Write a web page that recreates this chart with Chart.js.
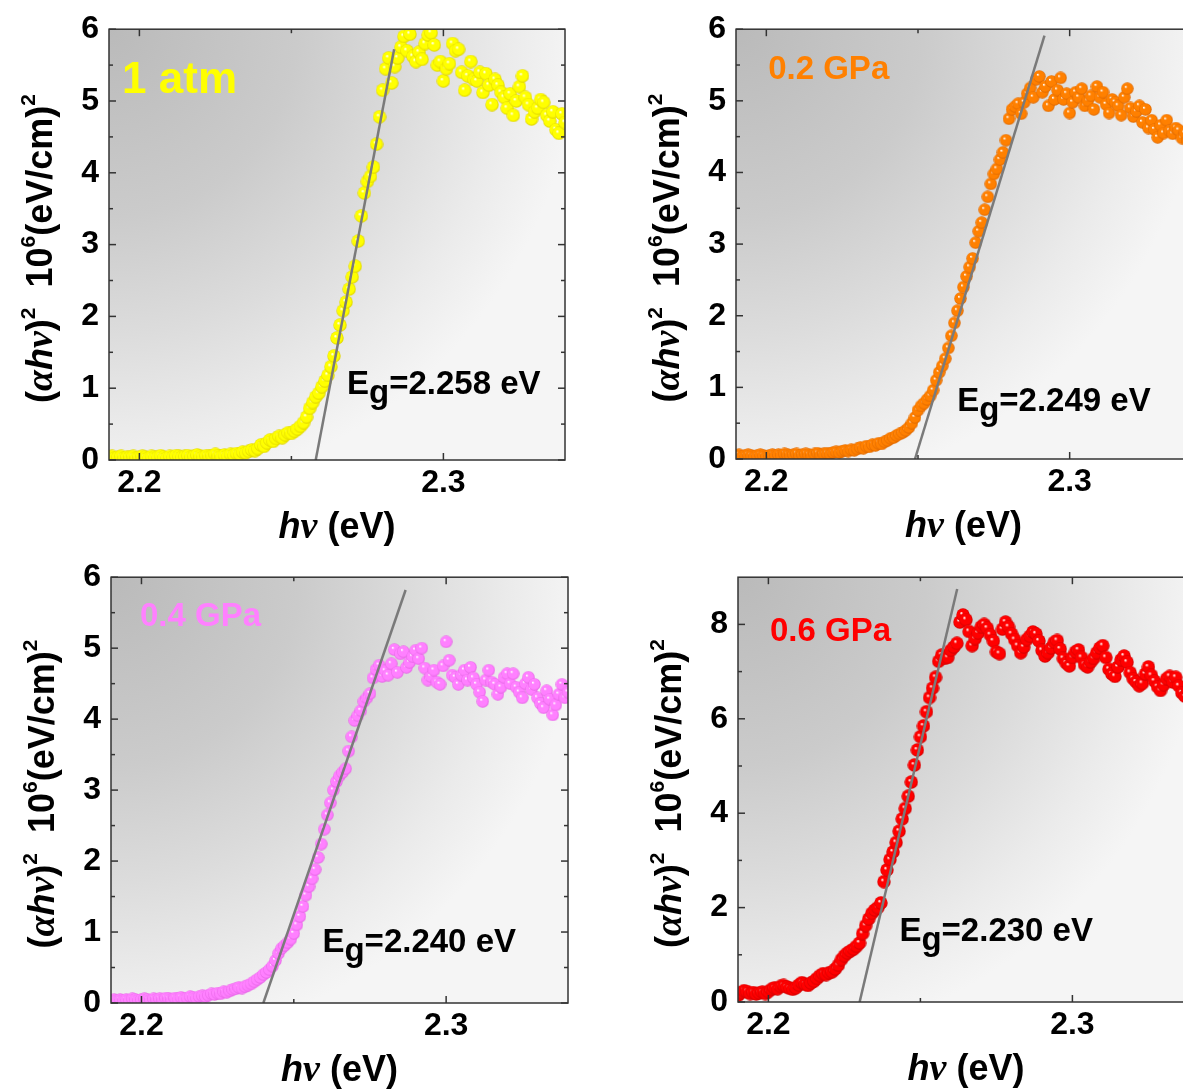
<!DOCTYPE html>
<html>
<head>
<meta charset="utf-8">
<script src="https://cdn.jsdelivr.net/npm/chart.js@4.4.1/dist/chart.umd.min.js"></script>
<style>
  html, body { margin: 0; padding: 0; background: #fff; overflow: hidden; }
  body { width: 1183px; height: 1090px; position: relative; }
  canvas { position: absolute; }
</style>
</head>
<body>
<canvas id="p1" width="590" height="548" style="left:0;top:0"></canvas>
<canvas id="p2" width="600" height="548" style="left:620px;top:0"></canvas>
<canvas id="p3" width="590" height="542" style="left:0;top:548px"></canvas>
<canvas id="p4" width="600" height="542" style="left:620px;top:548px"></canvas>
<script>
// ================== Data ==================
// photon energy grid (eV), shared by the four spectra
const energy = [
  2.190, 2.191, 2.192, 2.193, 2.194, 2.195, 2.196, 2.197, 2.198, 2.199,
  2.200, 2.201, 2.202, 2.203, 2.204, 2.205, 2.206, 2.207, 2.208, 2.209,
  2.210, 2.211, 2.212, 2.213, 2.214, 2.215, 2.216, 2.217, 2.218, 2.219,
  2.220, 2.221, 2.222, 2.223, 2.224, 2.225, 2.226, 2.227, 2.228, 2.229,
  2.230, 2.231, 2.232, 2.233, 2.234, 2.235, 2.236, 2.237, 2.238, 2.239,
  2.240, 2.241, 2.242, 2.243, 2.244, 2.245, 2.246, 2.247, 2.248, 2.249,
  2.250, 2.251, 2.252, 2.253, 2.254, 2.255, 2.256, 2.257, 2.258, 2.259,
  2.260, 2.261, 2.262, 2.263, 2.264, 2.265, 2.266, 2.267, 2.268, 2.269,
  2.270, 2.271, 2.272, 2.273, 2.274, 2.275, 2.276, 2.277, 2.278, 2.279,
  2.280, 2.281, 2.282, 2.283, 2.284, 2.285, 2.286, 2.287, 2.288, 2.289,
  2.290, 2.291, 2.292, 2.293, 2.294, 2.295, 2.296, 2.297, 2.298, 2.299,
  2.300, 2.301, 2.302, 2.303, 2.304, 2.305, 2.306, 2.307, 2.308, 2.309,
  2.310, 2.311, 2.312, 2.313, 2.314, 2.315, 2.316, 2.317, 2.318, 2.319,
  2.320, 2.321, 2.322, 2.323, 2.324, 2.325, 2.326, 2.327, 2.328, 2.329,
  2.330, 2.331, 2.332, 2.333, 2.334, 2.335, 2.336, 2.337, 2.338, 2.339,
  2.340
];

// (alpha h nu)^2 in 10^6 (eV/cm)^2
const absAtm = [
  0.04, 0.05, 0.03, 0.04, 0.05, 0.03, 0.04, 0.04, 0.05, 0.03,
  0.04, 0.05, 0.04, 0.03, 0.05, 0.04, 0.04, 0.06, 0.04, 0.03,
  0.05, 0.04, 0.06, 0.05, 0.04, 0.05, 0.06, 0.04, 0.05, 0.07,
  0.05, 0.04, 0.06, 0.05, 0.06, 0.08, 0.06, 0.05, 0.07, 0.06,
  0.08, 0.07, 0.09, 0.08, 0.11, 0.10, 0.12, 0.14, 0.13, 0.16,
  0.21, 0.19, 0.24, 0.28, 0.26, 0.30, 0.33, 0.31, 0.35, 0.38,
  0.37, 0.40, 0.43, 0.47, 0.52, 0.60, 0.72, 0.80, 0.88, 0.93,
  1.02, 1.10, 1.18, 1.30, 1.45, 1.70, 1.88, 2.08, 2.20, 2.38,
  2.55, 2.70, 3.05, 3.40, 3.72, 3.88, 3.95, 4.08, 4.40, 4.78,
  5.15, 5.45, 5.60, 5.25, 5.48, 5.60, 5.75, 5.90, 5.70, 5.93,
  5.62, 5.55, 5.68, 5.58, 5.80, 5.92, 5.95, 5.78, 5.50, 5.55,
  5.28, 5.45, 5.52, 5.80, 5.70, 5.72, 5.40, 5.15, 5.35, 5.55,
  5.30, 5.28, 5.40, 5.12, 5.38, 5.22, 4.95, 5.30, 5.22, 5.12,
  5.05, 4.90, 5.10, 4.80, 5.00, 5.20, 5.35, 5.05, 4.95, 4.75,
  4.85, 4.90, 5.02, 4.98, 4.80, 4.72, 4.85, 4.60, 4.55, 4.82,
  4.70
];
const abs02 = [
  0.05, 0.06, 0.04, 0.05, 0.06, 0.05, 0.04, 0.05, 0.06, 0.05,
  0.04, 0.05, 0.06, 0.05, 0.06, 0.05, 0.07, 0.06, 0.05, 0.06,
  0.07, 0.05, 0.06, 0.07, 0.06, 0.05, 0.07, 0.08, 0.06, 0.07,
  0.08, 0.07, 0.09, 0.10, 0.09, 0.11, 0.12, 0.11, 0.13, 0.12,
  0.14, 0.16, 0.15, 0.18, 0.17, 0.20, 0.19, 0.22, 0.21, 0.24,
  0.26, 0.29, 0.30, 0.33, 0.35, 0.37, 0.40, 0.44, 0.50, 0.58,
  0.68, 0.74, 0.78, 0.83, 0.88, 0.96, 1.10, 1.21, 1.30, 1.40,
  1.55, 1.72, 1.90, 2.07, 2.24, 2.40, 2.55, 2.68, 2.80, 3.02,
  3.18, 3.30, 3.48, 3.66, 3.84, 3.98, 4.05, 4.18, 4.28, 4.45,
  4.75, 4.88, 4.92, 4.96, 4.82, 4.98, 5.10, 5.18, 5.05, 5.30,
  5.34, 5.12, 5.20, 4.93, 5.27, 5.02, 5.15, 5.32, 5.02, 5.10,
  4.83, 4.98, 5.12, 5.05, 5.17, 4.93, 5.00, 5.07, 4.88, 5.20,
  5.05, 5.12, 4.95, 4.83, 5.02, 4.98, 4.93, 4.80, 5.05, 5.17,
  4.90, 4.78, 4.85, 4.93, 4.70, 4.88, 4.62, 4.73, 4.60, 4.49,
  4.66, 4.55, 4.73, 4.58, 4.54, 4.62, 4.59, 4.48, 4.55, 4.44,
  4.50
];
const abs04 = [
  0.04, 0.05, 0.04, 0.05, 0.04, 0.05, 0.04, 0.06, 0.05, 0.04,
  0.05, 0.06, 0.05, 0.04, 0.06, 0.05, 0.06, 0.05, 0.07, 0.06,
  0.05, 0.07, 0.06, 0.08, 0.06, 0.07, 0.09, 0.08, 0.07, 0.09,
  0.10, 0.09, 0.11, 0.13, 0.12, 0.14, 0.13, 0.16, 0.15, 0.17,
  0.19, 0.20, 0.22, 0.21, 0.23, 0.25, 0.27, 0.30, 0.33, 0.36,
  0.40, 0.43, 0.47, 0.52, 0.60, 0.70, 0.77, 0.81, 0.85, 0.90,
  0.98, 1.10, 1.22, 1.36, 1.52, 1.64, 1.75, 1.88, 2.05, 2.24,
  2.45, 2.65, 2.82, 3.00, 3.12, 3.20, 3.25, 3.30, 3.55, 3.75,
  3.98, 4.05, 4.12, 4.25, 4.30, 4.36, 4.58, 4.70, 4.76, 4.60,
  4.68, 4.62, 4.78, 4.98, 4.66, 4.92, 4.95, 4.73, 4.80, 4.88,
  4.97, 4.85, 5.00, 4.72, 4.55, 4.60, 4.69, 4.52, 4.49, 4.75,
  5.09, 4.83, 4.62, 4.59, 4.49, 4.62, 4.69, 4.55, 4.73, 4.58,
  4.49, 4.38, 4.25, 4.55, 4.69, 4.52, 4.49, 4.35, 4.45, 4.59,
  4.64, 4.50, 4.64, 4.45, 4.38, 4.30, 4.50, 4.59, 4.42, 4.49,
  4.30, 4.22, 4.16, 4.40, 4.28, 4.06, 4.20, 4.35, 4.49, 4.30,
  4.38
];
const abs06 = [
  0.14, 0.20, 0.24, 0.22, 0.18, 0.20, 0.17, 0.19, 0.21, 0.18,
  0.22, 0.27, 0.30, 0.28, 0.33, 0.35, 0.32, 0.29, 0.27, 0.30,
  0.36, 0.41, 0.38, 0.35, 0.40, 0.44, 0.50, 0.56, 0.60, 0.58,
  0.62, 0.64, 0.70, 0.78, 0.90, 0.98, 1.04, 1.08, 1.12, 1.18,
  1.25, 1.45, 1.62, 1.76, 1.88, 1.95, 2.00, 2.10, 2.55, 2.80,
  3.02, 3.18, 3.38, 3.62, 3.88, 4.10, 4.36, 4.66, 5.02, 5.34,
  5.62, 5.85, 6.15, 6.45, 6.65, 6.88, 7.22, 7.35, 7.28, 7.30,
  7.45, 7.52, 7.60, 8.05, 8.20, 8.10, 7.85, 7.55, 7.70, 7.82,
  7.95, 8.00, 7.92, 7.78, 7.65, 7.42, 7.38, 7.90, 8.05, 7.95,
  7.80, 7.68, 7.55, 7.40, 7.52, 7.68, 7.75, 7.84, 7.80, 7.65,
  7.45, 7.33, 7.40, 7.50, 7.62, 7.66, 7.48, 7.28, 7.18, 7.12,
  7.30, 7.42, 7.46, 7.30, 7.15, 7.10, 7.20, 7.28, 7.40, 7.50,
  7.55, 7.30, 7.05, 6.95, 6.90, 7.10, 7.25, 7.33, 7.20, 6.98,
  6.85, 6.78, 6.70, 6.75, 6.95, 7.10, 6.92, 6.80, 6.68, 6.60,
  6.72, 6.85, 6.90, 6.78, 6.88, 6.70, 6.55, 6.48, 6.60, 6.52,
  6.45
];

const pressures = ["1 atm", "0.2 GPa", "0.4 GPa", "0.6 GPa"];
const bandGaps = [2.258, 2.249, 2.240, 2.230];
// upper end of each linear fit: energy, (alpha h nu)^2
const fitEndE = [2.2838, 2.2917, 2.2867, 2.2621];
const fitEndA = [5.72, 5.91, 5.82, 8.75];

const xTicks = [2.2, 2.3];
const xMinor = [2.25];
const yTicksLow = [0, 1, 2, 3, 4, 5, 6];
const yMinorLow = [0.5, 1.5, 2.5, 3.5, 4.5, 5.5];
const yTicksHigh = [0, 2, 4, 6, 8];
const yMinorHigh = [1, 3, 5, 7];

// ================== Fonts ==================
const SANS = '"Liberation Sans", Arial, sans-serif';
const SERIF = '"Liberation Serif", "Times New Roman", serif';

// ================== Helpers ==================
function sphere(base, dark, d) {
  const c = document.createElement("canvas");
  c.width = d;
  c.height = d;
  const g = c.getContext("2d");
  const r = d / 2;
  const grad = g.createRadialGradient(r - 1.8, r - 2, 0.3, r, r, r);
  grad.addColorStop(0, "#ffffff");
  grad.addColorStop(0.22, base);
  grad.addColorStop(0.75, base);
  grad.addColorStop(1, dark);
  g.fillStyle = grad;
  g.beginPath();
  g.arc(r, r, r - 0.3, 0, Math.PI * 2);
  g.fill();
  return c;
}

// text made of runs: [string, font, vertical shift]
function richWidth(ctx, parts) {
  let w = 0;
  parts.forEach((p) => {
    ctx.font = p[1];
    w += ctx.measureText(p[0]).width;
  });
  return w;
}
function drawRich(ctx, parts, x, y) {
  let cx = x;
  parts.forEach((p) => {
    ctx.font = p[1];
    ctx.fillText(p[0], cx, y + (p[2] || 0));
    cx += ctx.measureText(p[0]).width;
  });
}

const yTitle = [
  ["(", `bold 36px ${SANS}`],
  ["\u03b1", `italic bold 38px ${SERIF}`],
  ["h", `italic bold 36px ${SANS}`],
  ["\u03bd", `italic bold 38px ${SERIF}`],
  [")", `bold 36px ${SANS}`],
  ["2", `bold 21px ${SANS}`, -17],
  ["  ", `bold 36px ${SANS}`],
  ["10", `bold 36px ${SANS}`],
  ["6", `bold 21px ${SANS}`, -17],
  ["(eV/cm)", `bold 36px ${SANS}`],
  ["2", `bold 21px ${SANS}`, -17],
];
const xTitle = [
  ["h", `italic bold 36px ${SANS}`],
  ["\u03bd", `italic bold 38px ${SERIF}`],
  [" (eV)", `bold 36px ${SANS}`],
];

// ================== Panel decoration plugin ==================
const panelDecor = {
  id: "panelDecor",
  beforeDatasetsDraw(chart) {
    const { ctx, chartArea: a } = chart;
    const g = ctx.createRadialGradient(a.left, a.top, 0, a.left, a.top, 470);
    g.addColorStop(0, "#bababa");
    g.addColorStop(0.4, "#cbcbcb");
    g.addColorStop(0.65, "#dcdcdc");
    g.addColorStop(0.85, "#ebebeb");
    g.addColorStop(1, "#f5f5f5");
    ctx.save();
    ctx.fillStyle = g;
    ctx.fillRect(a.left, a.top, a.right - a.left, a.bottom - a.top);
    ctx.restore();
  },
  afterDatasetsDraw(chart, args, opts) {
    const { ctx, chartArea: a } = chart;
    const xs = chart.scales.x;
    const ys = chart.scales.y;
    ctx.save();

    // frame with inward ticks on all four sides
    ctx.strokeStyle = "#333";
    ctx.lineWidth = 1.5;
    ctx.strokeRect(a.left, a.top, a.right - a.left, a.bottom - a.top);
    const tick = (x1, y1, x2, y2) => {
      ctx.beginPath();
      ctx.moveTo(x1, y1);
      ctx.lineTo(x2, y2);
      ctx.stroke();
    };
    const xt = (vals, len) =>
      vals.forEach((v) => {
        const px = xs.getPixelForValue(v);
        tick(px, a.bottom, px, a.bottom - len);
        tick(px, a.top, px, a.top + len);
      });
    const yt = (vals, len) =>
      vals.forEach((v) => {
        const py = ys.getPixelForValue(v);
        tick(a.left, py, a.left + len, py);
        tick(a.right, py, a.right - len, py);
      });
    xt(xTicks, 7);
    xt(xMinor, 4);
    yt(opts.yTicks, 7);
    yt(opts.yMinor, 4);

    // pressure tag
    ctx.fillStyle = opts.color;
    ctx.textBaseline = "alphabetic";
    ctx.textAlign = "left";
    ctx.font = `bold ${opts.tagSize}px ${SANS}`;
    ctx.fillText(opts.tag, xs.getPixelForValue(opts.tagAt[0]), ys.getPixelForValue(opts.tagAt[1]));

    // band gap label
    ctx.fillStyle = "#000";
    drawRich(
      ctx,
      [
        ["E", `bold 33px ${SANS}`],
        ["g", `bold 33px ${SANS}`, 9],
        ["=" + opts.gap.toFixed(3) + " eV", `bold 33px ${SANS}`],
      ],
      xs.getPixelForValue(opts.egAt[0]),
      ys.getPixelForValue(opts.egAt[1])
    );

    // axis titles
    const cx = (a.left + a.right) / 2;
    drawRich(ctx, xTitle, cx - richWidth(ctx, xTitle) / 2, a.bottom + 78);
    ctx.translate(a.left - 57, (a.top + a.bottom) / 2 + 4);
    ctx.rotate(-Math.PI / 2);
    drawRich(ctx, yTitle, -richWidth(ctx, yTitle) / 2, 0);
    ctx.restore();
  },
};

// ================== Panels ==================
const panels = [
  {
    id: "p1", values: absAtm, color: "#ffff00", dark: "#d8cc00", size: 14,
    yMax: 6, yTicks: yTicksLow, yMinor: yMinorLow,
    padTop: 29, padRight: 25, axisW: 109, axisH: 88,
    tagSize: 44, tagAt: [2.1943, 5.11], egAt: [2.2683, 0.92],
  },
  {
    id: "p2", values: abs02, color: "#ff8000", dark: "#d86400", size: 13,
    yMax: 6, yTicks: yTicksLow, yMinor: yMinorLow,
    padTop: 29, padRight: 29, axisW: 116, axisH: 89,
    tagSize: 33, tagAt: [2.2006, 5.31], egAt: [2.2629, 0.67],
  },
  {
    id: "p3", values: abs04, color: "#ff80ff", dark: "#e060e0", size: 13,
    yMax: 6, yTicks: yTicksLow, yMinor: yMinorLow,
    padTop: 25, padRight: 22, axisW: 111, axisH: 87,
    tagSize: 33, tagAt: [2.1995, 5.31], egAt: [2.2594, 0.725],
  },
  {
    id: "p4", values: abs06, color: "#ff0000", dark: "#c80000", size: 14,
    yMax: 9, yTicks: yTicksHigh, yMinor: yMinorHigh,
    padTop: 22, padRight: 26, axisW: 118, axisH: 88,
    tagSize: 33, tagAt: [2.2005, 7.65], egAt: [2.2431, 1.29],
  },
];

const tickFont = { family: SANS, size: 32, weight: "bold" };

panels.forEach((p, i) => {
  new Chart(document.getElementById(p.id), {
    type: "scatter",
    data: {
      datasets: [
        {
          // linear fit of the absorption edge
          data: [
            { x: bandGaps[i], y: 0 },
            { x: fitEndE[i], y: fitEndA[i] },
          ],
          showLine: true,
          borderColor: "#7a7a7a",
          borderWidth: 2.5,
          pointRadius: 0,
          order: 0,
        },
        {
          data: energy.map((e, k) => ({ x: e, y: p.values[k] })),
          pointStyle: sphere(p.color, p.dark, p.size),
          pointRadius: p.size / 2,
          order: 1,
        },
      ],
    },
    options: {
      responsive: false,
      animation: false,
      events: [],
      layout: { padding: { left: 0, top: p.padTop, right: p.padRight, bottom: 0 } },
      plugins: {
        legend: { display: false },
        tooltip: { enabled: false },
        panelDecor: {
          color: p.color, tag: pressures[i], tagSize: p.tagSize, tagAt: p.tagAt,
          gap: bandGaps[i], egAt: p.egAt, yTicks: p.yTicks, yMinor: p.yMinor,
        },
      },
      scales: {
        x: {
          type: "linear",
          min: 2.19,
          max: 2.34,
          grid: { display: false, drawTicks: false },
          border: { display: false },
          ticks: {
            font: tickFont, color: "#000", padding: 4, autoSkip: false, maxRotation: 0,
            callback: (v) => Number(v).toFixed(1),
          },
          afterBuildTicks: (s) => { s.ticks = xTicks.map((v) => ({ value: v })); },
          afterFit: (s) => { s.height = p.axisH; },
        },
        y: {
          type: "linear",
          min: 0,
          max: p.yMax,
          grid: { display: false, drawTicks: false },
          border: { display: false },
          ticks: { font: tickFont, color: "#000", padding: 10, autoSkip: false, callback: (v) => String(v) },
          afterBuildTicks: (s) => { s.ticks = p.yTicks.map((v) => ({ value: v })); },
          afterFit: (s) => { s.width = p.axisW; },
        },
      },
    },
    plugins: [panelDecor],
  });
});
</script>
</body>
</html>
